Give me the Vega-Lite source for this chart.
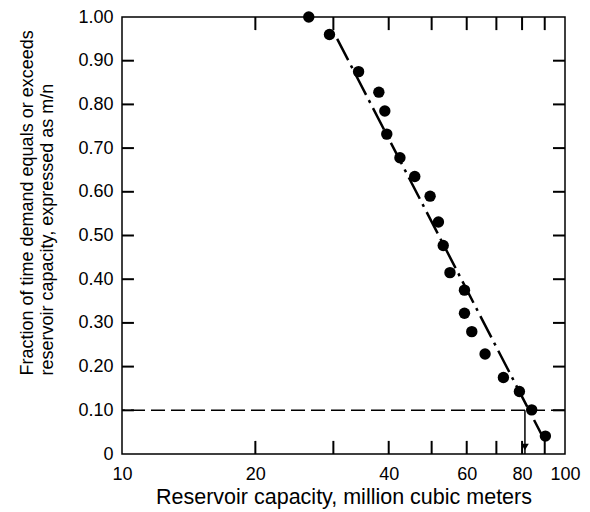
{
  "$schema": "https://vega.github.io/schema/vega-lite/v6.json",
  "autosize": "none",
  "width": 443,
  "height": 437,
  "padding": {"left": 122, "top": 17, "right": 25, "bottom": 58},
  "background": "white",
  "config": {
    "view": {"stroke": "black", "strokeWidth": 1.5},
    "font": "Liberation Sans",
    "axis": {"grid": false, "domain": false, "ticks": false, "labelColor": "black", "titleColor": "black", "labelFont": "Liberation Sans", "titleFont": "Liberation Sans", "labelFontSize": 18, "titleFontSize": 18, "titleFontWeight": "normal"}
  },
  "datasets": {
    "obs": [
      {"capacity": 26.4, "fraction": 1.0},
      {"capacity": 29.4, "fraction": 0.96},
      {"capacity": 34.2, "fraction": 0.875},
      {"capacity": 38.0, "fraction": 0.828},
      {"capacity": 39.2, "fraction": 0.785},
      {"capacity": 39.6, "fraction": 0.732},
      {"capacity": 42.4, "fraction": 0.678},
      {"capacity": 45.8, "fraction": 0.635},
      {"capacity": 49.6, "fraction": 0.59},
      {"capacity": 51.8, "fraction": 0.531},
      {"capacity": 53.1, "fraction": 0.477},
      {"capacity": 55.0, "fraction": 0.415},
      {"capacity": 59.3, "fraction": 0.375},
      {"capacity": 59.3, "fraction": 0.322},
      {"capacity": 61.6, "fraction": 0.28},
      {"capacity": 66.0, "fraction": 0.229},
      {"capacity": 72.6, "fraction": 0.175},
      {"capacity": 78.9, "fraction": 0.143},
      {"capacity": 84.1, "fraction": 0.101},
      {"capacity": 90.3, "fraction": 0.041}
    ],
    "fit": [
      {"capacity": 30.6, "fraction": 0.95},
      {"capacity": 89.0, "fraction": 0.04}
    ],
    "xticks": [
      {"value": 20}, {"value": 30}, {"value": 40}, {"value": 50},
      {"value": 60}, {"value": 70}, {"value": 80}, {"value": 90}
    ],
    "yticks": [
      {"value": 0.1}, {"value": 0.2}, {"value": 0.3}, {"value": 0.4}, {"value": 0.5},
      {"value": 0.6}, {"value": 0.7}, {"value": 0.8}, {"value": 0.9}
    ],
    "arrow": [
      {"capacity": 81.2, "fraction": 0.1, "fraction2": 0.0}
    ],
    "arrowhead": [
      {"capacity": 81.2, "fraction": 0.016}
    ]
  },
  "resolve": {"axis": {"x": "independent", "y": "independent"}},
  "layer": [
    {
      "data": {"name": "obs"},
      "mark": {"type": "circle", "color": "black", "opacity": 1, "size": 130},
      "encoding": {
        "x": {"field": "capacity", "type": "quantitative", "scale": {"type": "log", "domain": [10, 100]},
          "axis": {"orient": "bottom", "title": "Reservoir capacity, million cubic meters", "titleFontSize": 21.5, "values": [10, 20, 40, 60, 80, 100], "labelPadding": 11, "titlePadding": 3, "labelFlush": false}},
        "y": {"field": "fraction", "type": "quantitative", "scale": {"domain": [0, 1]},
          "axis": {"orient": "left", "title": ["Fraction of time demand equals or exceeds", "reservoir capacity, expressed as m/n"], "values": [0, 0.1, 0.2, 0.3, 0.4, 0.5, 0.6, 0.7, 0.8, 0.9, 1.0], "labelExpr": "datum.value == 0 ? '0' : format(datum.value, '.2f')", "labelPadding": 9, "titlePadding": 21, "titleLineHeight": 20, "titleAlign": "left", "titleY": 358}}
      }
    },
    {
      "data": {"name": "xticks"},
      "mark": {"type": "rule", "color": "black", "strokeWidth": 2},
      "encoding": {
        "x": {"field": "value", "type": "quantitative", "scale": {"type": "log", "domain": [10, 100]}, "axis": null},
        "y": {"datum": 0, "type": "quantitative", "scale": {"domain": [0, 1]}, "axis": null},
        "y2": {"datum": 0.03}
      }
    },
    {
      "data": {"name": "xticks"},
      "mark": {"type": "rule", "color": "black", "strokeWidth": 2},
      "encoding": {
        "x": {"field": "value", "type": "quantitative", "scale": {"type": "log", "domain": [10, 100]}, "axis": null},
        "y": {"datum": 0.97, "type": "quantitative", "scale": {"domain": [0, 1]}, "axis": null},
        "y2": {"datum": 1}
      }
    },
    {
      "data": {"name": "yticks"},
      "mark": {"type": "rule", "color": "black", "strokeWidth": 2},
      "encoding": {
        "y": {"field": "value", "type": "quantitative", "scale": {"domain": [0, 1]}, "axis": null},
        "x": {"datum": 10, "type": "quantitative", "scale": {"type": "log", "domain": [10, 100]}, "axis": null},
        "x2": {"datum": 10.64}
      }
    },
    {
      "data": {"name": "yticks"},
      "mark": {"type": "rule", "color": "black", "strokeWidth": 2},
      "encoding": {
        "y": {"field": "value", "type": "quantitative", "scale": {"domain": [0, 1]}, "axis": null},
        "x": {"datum": 93.95, "type": "quantitative", "scale": {"type": "log", "domain": [10, 100]}, "axis": null},
        "x2": {"datum": 100}
      }
    },
    {
      "data": {"name": "fit"},
      "mark": {"type": "line", "color": "black", "strokeWidth": 2.5, "strokeDash": [24, 6, 3, 6]},
      "encoding": {
        "x": {"field": "capacity", "type": "quantitative", "scale": {"type": "log", "domain": [10, 100]}, "axis": null},
        "y": {"field": "fraction", "type": "quantitative", "scale": {"domain": [0, 1]}, "axis": null}
      }
    },
    {
      "data": {"values": [{"level": 0.1}]},
      "mark": {"type": "rule", "color": "black", "strokeWidth": 1.5, "strokeDash": [14, 6]},
      "encoding": {
        "y": {"field": "level", "type": "quantitative", "scale": {"domain": [0, 1]}, "axis": null}
      }
    },
    {
      "data": {"name": "arrow"},
      "mark": {"type": "rule", "color": "black", "strokeWidth": 1.5},
      "encoding": {
        "x": {"field": "capacity", "type": "quantitative", "scale": {"type": "log", "domain": [10, 100]}, "axis": null},
        "y": {"field": "fraction", "type": "quantitative", "scale": {"domain": [0, 1]}, "axis": null},
        "y2": {"field": "fraction2"}
      }
    },
    {
      "data": {"name": "arrowhead"},
      "mark": {"type": "point", "shape": "triangle-down", "filled": true, "color": "black", "size": 60, "opacity": 1},
      "encoding": {
        "x": {"field": "capacity", "type": "quantitative", "scale": {"type": "log", "domain": [10, 100]}, "axis": null},
        "y": {"field": "fraction", "type": "quantitative", "scale": {"domain": [0, 1]}, "axis": null}
      }
    }
  ]
}
